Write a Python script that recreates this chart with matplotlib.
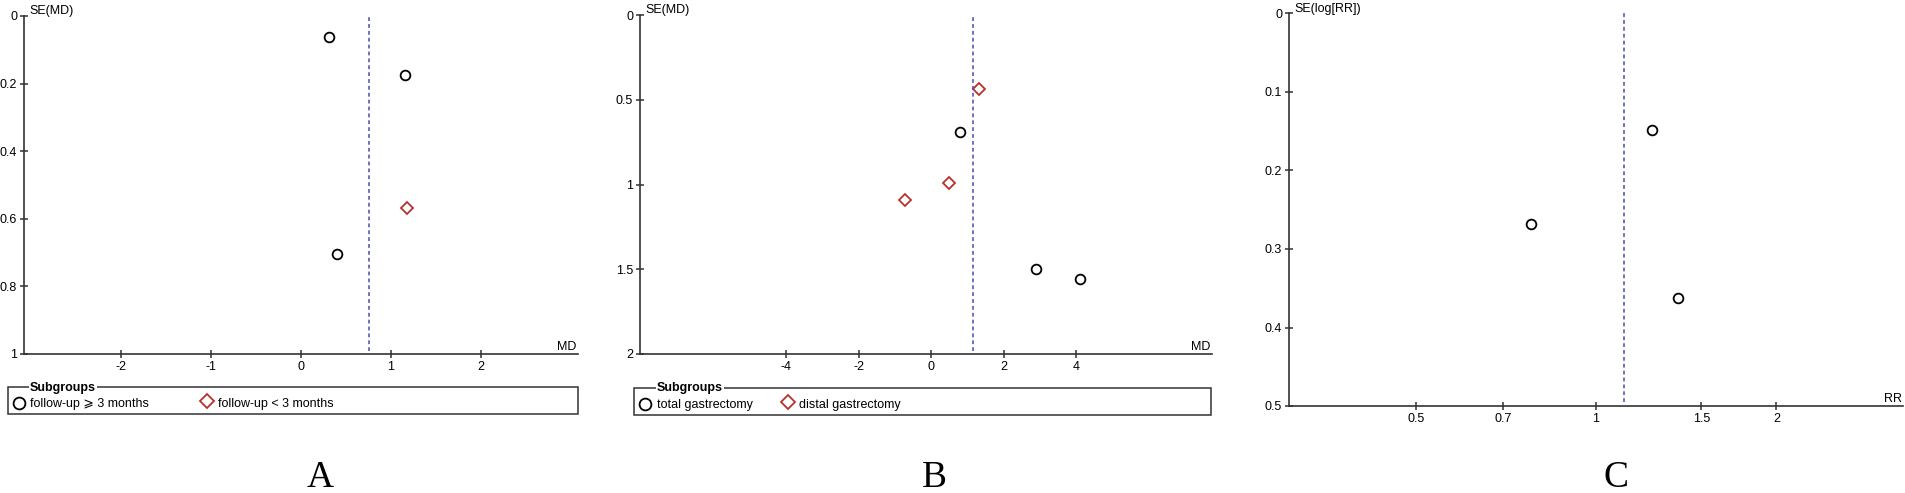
import numpy as np
import matplotlib
matplotlib.use('Agg')
import matplotlib.pyplot as plt
from matplotlib.patches import Rectangle

plt.rcParams['font.family'] = ['Liberation Sans', 'DejaVu Sans']

# ---- data ----
# panel A: SE(MD) vs MD
a_circle_md = [0.31, 1.16, 0.40]
a_circle_se = [0.061, 0.175, 0.704]
a_diamond_md = [1.18]
a_diamond_se = [0.567]
a_pooled = 0.76
a_xticks = [-2, -1, 0, 1, 2]
a_yticks = [0, 0.2, 0.4, 0.6, 0.8, 1]
a_groups = ['follow-up \u2a7e 3 months', 'follow-up < 3 months']

# panel B: SE(MD) vs MD
b_circle_md = [0.80, 2.90, 4.11]
b_circle_se = [0.69, 1.50, 1.56]
b_diamond_md = [1.32, 0.50, -0.71]
b_diamond_se = [0.437, 0.99, 1.09]
b_pooled = 1.16
b_xticks = [-4, -2, 0, 2, 4]
b_yticks = [0, 0.5, 1, 1.5, 2]
b_groups = ['total gastrectomy', 'distal gastrectomy']

# panel C: SE(log[RR]) vs RR (log scale)
c_rr = [1.24, 0.778, 1.37]
c_se = [0.148, 0.268, 0.362]
c_pooled = 1.114
c_xticks = [0.5, 0.7, 1, 1.5, 2]
c_yticks = [0, 0.1, 0.2, 0.3, 0.4, 0.5]

AXIS_COLOR = '#333333'
DASH_COLOR = '#4a4ab4'
DIAMOND_COLOR = '#b8322a'

W, H = 1905, 493
fig = plt.figure(figsize=(W / 100, H / 100), dpi=100)


def px_rect(x0, y0, x1, y1):
    # pixel box -> figure fraction
    return [x0 / W, 1 - y1 / H, (x1 - x0) / W, (y1 - y0) / H]


def fmt(v):
    return ('%g' % v)


def style_axis(ax, xlabel, ylabel, xticks, yticks):
    for s in ['top', 'right']:
        ax.spines[s].set_visible(False)
    for s in ['left', 'bottom']:
        ax.spines[s].set_color(AXIS_COLOR)
        ax.spines[s].set_linewidth(1.2)
    ax.set_xticks(xticks)
    ax.set_xticklabels([fmt(v) for v in xticks])
    ax.set_yticks(yticks)
    ax.set_yticklabels([fmt(v) for v in yticks])
    ax.minorticks_off()
    ax.tick_params(direction='inout', length=6, width=1.1, color=AXIS_COLOR,
                   labelcolor='black', labelsize=9, pad=2)
    ax.patch.set_alpha(0)
    ax.annotate(ylabel, xy=(0, 1), xycoords='axes fraction', xytext=(4, 3.5),
                textcoords='offset points', ha='left', va='center', fontsize=9)
    ax.annotate(xlabel, xy=(1, 0), xycoords='axes fraction', xytext=(-1, 5),
                textcoords='offset points', ha='right', va='center', fontsize=9)


def draw_points(ax, xs, ys, kind):
    if kind == 'circle':
        ax.plot(xs, ys, 'o', mfc='none', mec='black', ms=7, mew=1.3, clip_on=False)
    else:
        ax.plot(xs, ys, 'D', mfc='none', mec=DIAMOND_COLOR, ms=6, mew=1.3, clip_on=False)


def draw_legend(rect_px, labels, offsets):
    lx = fig.add_axes(px_rect(*rect_px))
    lx.set_xlim(0, rect_px[2] - rect_px[0])
    lx.set_ylim(rect_px[3] - rect_px[1], 0)
    lx.axis('off')
    lx.add_patch(Rectangle((0, 0), rect_px[2] - rect_px[0], rect_px[3] - rect_px[1],
                           fill=False, ec=AXIS_COLOR, lw=1.1, clip_on=False))
    lx.text(offsets[1], 0.5, 'Subgroups', fontsize=9, fontweight='bold', ha='left',
            va='center', bbox=dict(fc='white', ec='none', pad=0.5))
    kinds = ['circle', 'diamond']
    for i, lab in enumerate(labels):
        mx = offsets[2 * i]
        tx = offsets[2 * i + 1]
        if kinds[i] == 'circle':
            lx.plot([mx], [15.5], 'o', mfc='none', mec='black', ms=8.5, mew=1.3, clip_on=False)
        else:
            lx.plot([mx], [13.5], 'D', mfc='none', mec=DIAMOND_COLOR, ms=7.5, mew=1.3, clip_on=False)
        lx.text(tx, 17, lab, fontsize=9, ha='left', va='center')


# ---- panel A ----
ax_a = fig.add_axes(px_rect(24, 16, 578, 354))
draw_points(ax_a, a_circle_md, a_circle_se, 'circle')
draw_points(ax_a, a_diamond_md, a_diamond_se, 'diamond')
ax_a.axvline(a_pooled, ymin=0.01, ymax=1, color=DASH_COLOR, lw=1.1, dashes=(2.5, 2))
ax_a.set_xlim(-3.08, 3.08)
ax_a.set_ylim(1, 0)
style_axis(ax_a, 'MD', 'SE(MD)', a_xticks, a_yticks)
draw_legend((8, 387, 578, 414), a_groups, [11, 22, 199, 210])

# ---- panel B ----
ax_b = fig.add_axes(px_rect(640, 15, 1212, 354))
draw_points(ax_b, b_circle_md, b_circle_se, 'circle')
draw_points(ax_b, b_diamond_md, b_diamond_se, 'diamond')
ax_b.axvline(b_pooled, ymin=0.01, ymax=1, color=DASH_COLOR, lw=1.1, dashes=(2.5, 2))
ax_b.set_xlim(-8.03, 7.75)
ax_b.set_ylim(2, 0)
style_axis(ax_b, 'MD', 'SE(MD)', b_xticks, b_yticks)
draw_legend((634, 388, 1211, 415), b_groups, [11, 23, 154, 165])

# ---- panel C ----
ax_c = fig.add_axes(px_rect(1289, 13.5, 1903, 406))
ax_c.set_xscale('log')
draw_points(ax_c, c_rr, c_se, 'circle')
ax_c.axvline(c_pooled, ymin=0.01, ymax=1, color=DASH_COLOR, lw=1.1, dashes=(2.5, 2))
ax_c.set_xlim(np.exp(-1.18), np.exp(1.18))
ax_c.set_ylim(0.5, 0)
style_axis(ax_c, 'RR', 'SE(log[RR])', c_xticks, c_yticks)

# ---- panel letters ----
for letter, xc in [('A', 320), ('B', 934), ('C', 1616)]:
    fig.text(xc / W, 1 - 478 / H, letter, family='Liberation Serif', fontsize=27,
             ha='center', va='center')

fig.savefig('out.png', dpi=100)
